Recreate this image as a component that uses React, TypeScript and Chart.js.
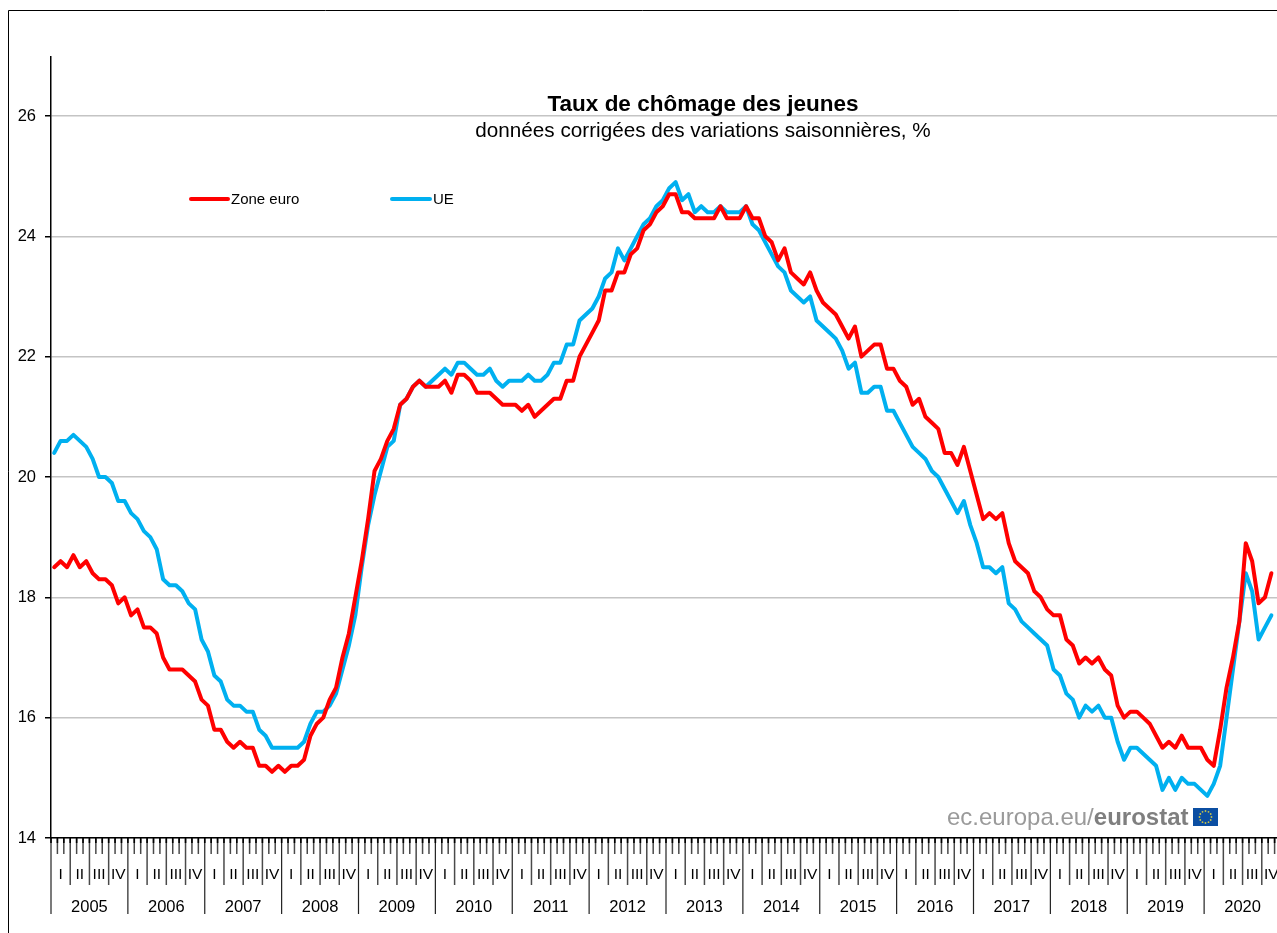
import React, { useEffect, useRef } from "react";
import { Chart, registerables } from "chart.js";

Chart.register(...registerables);

const years = ["2005","2006","2007","2008","2009","2010","2011","2012","2013","2014","2015","2016","2017","2018","2019","2020"];
const quarters = ["I", "II", "III", "IV"];
const months = ["01","02","03","04","05","06","07","08","09","10","11","12"];

const zoneEuro = [
  18.5,18.6,18.5,18.7,18.5,18.6,18.4,18.3,18.3,18.2,17.9,18.0,
  17.7,17.8,17.5,17.5,17.4,17.0,16.8,16.8,16.8,16.7,16.6,16.3,
  16.2,15.8,15.8,15.6,15.5,15.6,15.5,15.5,15.2,15.2,15.1,15.2,
  15.1,15.2,15.2,15.3,15.7,15.9,16.0,16.3,16.5,17.0,17.4,18.0,
  18.6,19.3,20.1,20.3,20.6,20.8,21.2,21.3,21.5,21.6,21.5,21.5,
  21.5,21.6,21.4,21.7,21.7,21.6,21.4,21.4,21.4,21.3,21.2,21.2,
  21.2,21.1,21.2,21.0,21.1,21.2,21.3,21.3,21.6,21.6,22.0,22.2,
  22.4,22.6,23.1,23.1,23.4,23.4,23.7,23.8,24.1,24.2,24.4,24.5,
  24.7,24.7,24.4,24.4,24.3,24.3,24.3,24.3,24.5,24.3,24.3,24.3,
  24.5,24.3,24.3,24.0,23.9,23.6,23.8,23.4,23.3,23.2,23.4,23.1,
  22.9,22.8,22.7,22.5,22.3,22.5,22.0,22.1,22.2,22.2,21.8,21.8,
  21.6,21.5,21.2,21.3,21.0,20.9,20.8,20.4,20.4,20.2,20.5,20.1,
  19.7,19.3,19.4,19.3,19.4,18.9,18.6,18.5,18.4,18.1,18.0,17.8,
  17.7,17.7,17.3,17.2,16.9,17.0,16.9,17.0,16.8,16.7,16.2,16.0,
  16.1,16.1,16.0,15.9,15.7,15.5,15.6,15.5,15.7,15.5,15.5,15.5,
  15.3,15.2,15.8,16.5,17.0,17.6,18.9,18.6,17.9,18.0,18.4,
];

const ue = [
  20.4,20.6,20.6,20.7,20.6,20.5,20.3,20.0,20.0,19.9,19.6,19.6,
  19.4,19.3,19.1,19.0,18.8,18.3,18.2,18.2,18.1,17.9,17.8,17.3,
  17.1,16.7,16.6,16.3,16.2,16.2,16.1,16.1,15.8,15.7,15.5,15.5,
  15.5,15.5,15.5,15.6,15.9,16.1,16.1,16.2,16.4,16.8,17.2,17.7,
  18.5,19.2,19.7,20.1,20.5,20.6,21.2,21.3,21.5,21.6,21.5,21.6,
  21.7,21.8,21.7,21.9,21.9,21.8,21.7,21.7,21.8,21.6,21.5,21.6,
  21.6,21.6,21.7,21.6,21.6,21.7,21.9,21.9,22.2,22.2,22.6,22.7,
  22.8,23.0,23.3,23.4,23.8,23.6,23.8,24.0,24.2,24.3,24.5,24.6,
  24.8,24.9,24.6,24.7,24.4,24.5,24.4,24.4,24.5,24.4,24.4,24.4,
  24.5,24.2,24.1,23.9,23.7,23.5,23.4,23.1,23.0,22.9,23.0,22.6,
  22.5,22.4,22.3,22.1,21.8,21.9,21.4,21.4,21.5,21.5,21.1,21.1,
  20.9,20.7,20.5,20.4,20.3,20.1,20.0,19.8,19.6,19.4,19.6,19.2,
  18.9,18.5,18.5,18.4,18.5,17.9,17.8,17.6,17.5,17.4,17.3,17.2,
  16.8,16.7,16.4,16.3,16.0,16.2,16.1,16.2,16.0,16.0,15.6,15.3,
  15.5,15.5,15.4,15.3,15.2,14.8,15.0,14.8,15.0,14.9,14.9,14.8,
  14.7,14.9,15.2,16.0,16.8,17.6,18.4,18.1,17.3,17.5,17.7,
];

const labels = years.flatMap((y) => months.map((m) => `${y}-${m}`));

const titleText = "Taux de chômage des jeunes";
const subtitleText = "données corrigées des variations saisonnières, %";
const RED = "#ff0000";
const BLUE = "#00b0f0";
const FONT = '"Liberation Sans", Arial, sans-serif';

const overlay = {
  id: "overlay",
  afterDraw(chart: any) {
    const { ctx, scales } = chart;
    const x = scales.x;
    const axisY = x.top;
    const step = x.getPixelForValue(1) - x.getPixelForValue(0);
    const edge = (i: number) => x.getPixelForValue(0) - step / 2 + i * step;

    ctx.save();
    // Outer frame
    ctx.strokeStyle = "#000";
    ctx.lineWidth = 1;
    ctx.beginPath();
    ctx.moveTo(8.5, 933);
    ctx.lineTo(8.5, 10.5);
    ctx.lineTo(1277, 10.5);
    ctx.stroke();

    // Time axis: months, quarters, years
    ctx.fillStyle = "#000";
    ctx.textAlign = "center";
    ctx.textBaseline = "middle";
    labels.forEach((_, i) => {
      const px = edge(i);
      const len = i % 12 === 0 ? 76 : i % 3 === 0 ? 47 : 16;
      ctx.lineWidth = i % 12 === 0 ? 1.2 : 1.5;
      ctx.strokeStyle = i % 12 === 0 ? "#222" : "#4a4a4a";
      ctx.beginPath();
      ctx.moveTo(px, axisY);
      ctx.lineTo(px, axisY + len);
      ctx.stroke();
      ctx.strokeStyle = "#000";
      ctx.lineWidth = 1.6;
      ctx.beginPath();
      ctx.moveTo(px, axisY);
      ctx.lineTo(px, axisY + 5);
      ctx.stroke();
    });
    ctx.font = `15.5px ${FONT}`;
    labels.forEach((_, i) => {
      if (i % 3 === 0) {
        ctx.fillText(quarters[(i % 12) / 3], edge(i + 1.5), axisY + 37);
      }
    });
    ctx.font = `16.5px ${FONT}`;
    years.forEach((y, k) => {
      ctx.fillText(y, edge(k * 12 + 6), axisY + 69);
    });

    // Titles
    ctx.font = `bold 22.5px ${FONT}`;
    ctx.fillText(titleText, 703, 105);
    ctx.font = `20.7px ${FONT}`;
    ctx.fillText(subtitleText, 703, 131);

    // Legend
    ctx.textAlign = "left";
    ctx.lineCap = "round";
    ctx.lineWidth = 4;
    ctx.strokeStyle = RED;
    ctx.beginPath();
    ctx.moveTo(191, 199);
    ctx.lineTo(228, 199);
    ctx.stroke();
    ctx.strokeStyle = BLUE;
    ctx.beginPath();
    ctx.moveTo(392, 199);
    ctx.lineTo(430, 199);
    ctx.stroke();
    ctx.font = `15px ${FONT}`;
    ctx.fillStyle = "#000";
    ctx.fillText("Zone euro", 231, 200);
    ctx.fillText("UE", 433, 200);

    // Source mark
    ctx.fillStyle = "#9a9a9a";
    ctx.font = `24px ${FONT}`;
    ctx.fillText("ec.europa.eu/", 947, 818);
    const w = ctx.measureText("ec.europa.eu/").width;
    ctx.fillStyle = "#7f7f7f";
    ctx.font = `bold 24px ${FONT}`;
    ctx.fillText("eurostat", 947 + w, 818);
    ctx.fillStyle = "#0b4ea2";
    ctx.fillRect(1193, 808, 25, 18);
    ctx.fillStyle = "#c9c24a";
    for (let a = 0; a < 12; a++) {
      const t = (a * Math.PI) / 6;
      ctx.beginPath();
      ctx.arc(1205.5 + 6 * Math.cos(t), 817 + 6 * Math.sin(t), 0.9, 0, Math.PI * 2);
      ctx.fill();
    }
    ctx.restore();
  },
};

export default function App() {
  const ref = useRef<HTMLCanvasElement>(null);
  useEffect(() => {
    const chart = new Chart(ref.current!, {
      type: "line",
      data: {
        labels,
        datasets: [
          { label: "Zone euro", data: zoneEuro, borderColor: RED, backgroundColor: RED },
          { label: "UE", data: ue, borderColor: BLUE, backgroundColor: BLUE },
        ].map((d) => ({
          ...d,
          borderWidth: 4,
          pointRadius: 0,
          tension: 0,
          borderJoinStyle: "round" as const,
          borderCapStyle: "round" as const,
        })),
      },
      options: {
        animation: false,
        responsive: false,
        layout: { padding: { top: 57, right: 9, bottom: 0, left: 0 } },
        plugins: { legend: { display: false }, title: { display: false }, tooltip: { enabled: false } },
        scales: {
          x: {
            type: "category",
            offset: true,
            grid: { display: false },
            border: { color: "#000", width: 1.5 },
            ticks: { display: false },
            afterFit: (a: any) => { a.height = 95; },
          },
          y: {
            min: 14,
            max: 26.98,
            afterBuildTicks: (a: any) => { a.ticks = [14,16,18,20,22,24,26].map((value) => ({ value })); },
            grid: { color: "#c4c4c4", lineWidth: 1.5, tickColor: "#000", tickLength: 6 },
            border: { color: "#000", width: 1.5 },
            ticks: { color: "#000", padding: 9, font: { family: FONT, size: 16.5 } },
            afterFit: (a: any) => { a.width = 51; },
          },
        },
      },
      plugins: [overlay],
    });
    return () => chart.destroy();
  }, []);
  return (
    <div style={{ position: "fixed", left: 0, top: 0, width: 1277, height: 933, overflow: "hidden", background: "#fff" }}>
      <canvas ref={ref} width={1290} height={933} style={{ display: "block", width: 1290, height: 933 }} />
    </div>
  );
}
